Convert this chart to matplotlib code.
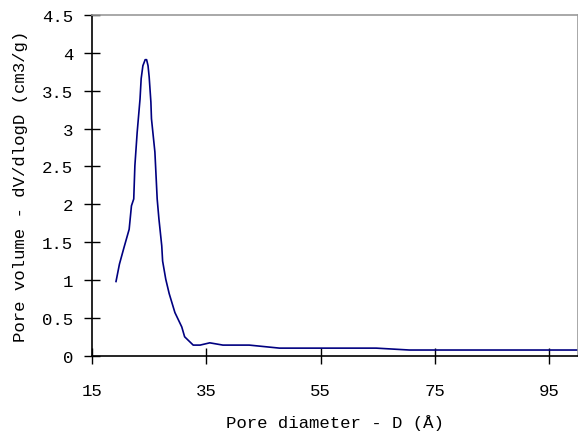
import matplotlib
matplotlib.use("Agg")
import matplotlib.pyplot as plt

diameter = [19.2, 19.8, 20.6, 21.5, 21.9, 22.3, 22.5, 22.9, 23.4, 23.6, 23.9, 24.3,
            24.55, 24.8, 25.0, 25.3, 25.4, 26.0, 26.4, 26.7, 27.2, 27.35, 27.9, 28.5,
            29.5, 30.7, 31.2, 32.7, 33.9, 35.6, 37.9, 42.5, 47.8, 64.7, 70.5, 100.0]
volume = [0.98, 1.21, 1.43, 1.67, 1.98, 2.07, 2.51, 2.95, 3.39, 3.66, 3.83, 3.91,
          3.91, 3.83, 3.68, 3.35, 3.13, 2.69, 2.07, 1.81, 1.45, 1.25, 1.01, 0.82,
          0.57, 0.38, 0.25, 0.14, 0.14, 0.17, 0.14, 0.14, 0.10, 0.10, 0.075, 0.075]

xticks = [15, 35, 55, 75, 95]
yticks = [0, 0.5, 1, 1.5, 2, 2.5, 3, 3.5, 4, 4.5]
ytick_labels = ["0", "0.5", "1", "1.5", "2", "2.5", "3", "3.5", "4", "4.5"]

plt.rcParams['font.family'] = ['Liberation Mono', 'DejaVu Sans Mono']
fs = 12.5

fig = plt.figure(figsize=(5.78, 4.35), dpi=100)
ax = fig.add_axes([92/578, (435-356.7)/435, (578-92)/578, (356.7-16)/435])
ax.plot(diameter, volume, color='#000080', lw=1.2)

ax.set_xlim(15, 100)
ax.set_ylim(0, 4.5)
ax.set_xticks(xticks)
ax.set_xticklabels([str(t) for t in xticks], fontsize=fs)
ax.set_yticks(yticks)
ax.set_yticklabels(ytick_labels, fontsize=fs)
ax.tick_params(axis='both', direction='inout', length=11, width=1, color='black')
ax.tick_params(axis='x', pad=14)
ax.tick_params(axis='y', pad=8)

for s in ['left', 'bottom']:
    ax.spines[s].set_color('black')
    ax.spines[s].set_linewidth(1.2)
for s in ['top', 'right']:
    ax.spines[s].set_color('#999999')
    ax.spines[s].set_linewidth(1.2)

ax.set_xlabel('Pore diameter - D (Å)', fontsize=fs, labelpad=12)
ax.set_ylabel('Pore volume - dV/dlogD (cm3/g)', fontsize=fs, labelpad=10)

fig.savefig('out.png', dpi=100)
